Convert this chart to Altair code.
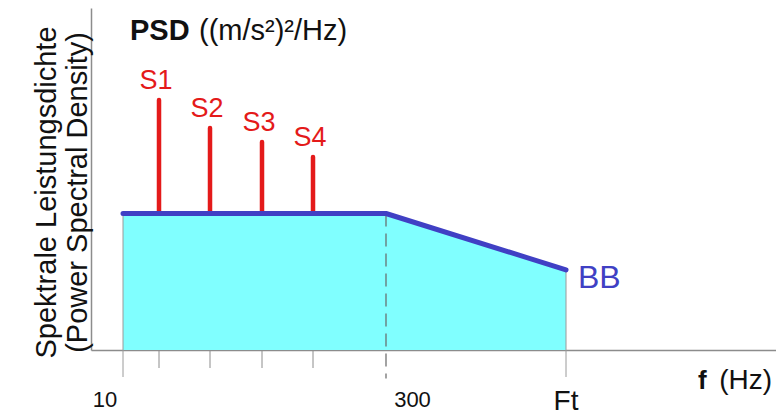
import altair as alt
import pandas as pd

# Schematic units: x = position along the frequency axis, y = PSD level
stem_names = ["S1", "S2", "S3", "S4"]
stem_pos = [13.6, 23.8, 34.2, 44.4]
stem_level = [83.3, 74.0, 69.3, 64.3]

bb_pos = [6.4, 59.0, 95.0]          # 10 Hz, 300 Hz, Ft
bb_level = [45.5, 45.5, 26.7]

freq_names = ["10", "300"]
freq_label_pos = [2.8, 64.3]
ft_name = ["Ft"]

FONT = "Liberation Sans"
BLUE = "#4040c4"
RED = "#e41a1a"
CYAN = "#80ffff"
GRAY = "#8c8c8c"

xs = alt.Scale(domain=[0, 137], nice=False, zero=False)
ys = alt.Scale(domain=[0, 114], nice=False, zero=False)

x_axis = alt.Axis(title=None, labels=False, ticks=False, grid=False,
                  domainColor=GRAY, domainWidth=1.5)
y_axis = alt.Axis(title=["Spektrale Leistungsdichte", "(Power Spectral Density)"],
                  labels=False, ticks=False, grid=False,
                  domainColor=GRAY, domainWidth=1.5,
                  titleFont=FONT, titleFontSize=29, titleFontWeight="normal",
                  titleColor="#111111", titleAngle=270, titleAlign="center",
                  titleBaseline="middle", titleX=-45, titleY=184,
                  titleLineHeight=31)


def X(field="x"):
    return alt.X(f"{field}:Q", scale=xs, axis=x_axis)


def Y(field="y"):
    return alt.Y(f"{field}:Q", scale=ys, axis=y_axis)


bb = pd.DataFrame({"x": bb_pos, "y": bb_level})
stems = pd.DataFrame({"x": stem_pos, "y": stem_level, "name": stem_names})

# cyan band under the broadband curve
area = alt.Chart(bb).mark_area(color=CYAN, opacity=1).encode(
    x=X(), y=Y(), y2=alt.datum(0))

# thin edges of the band at 10 Hz and Ft, running down past the axis
edges = alt.Chart(bb.iloc[[0, 2]]).mark_rule(color="#9a9a9a", strokeWidth=1).encode(
    x=X(), y=Y(), y2=alt.datum(-9))

# dashed marker at 300 Hz
knee = alt.Chart(bb.iloc[[1]]).mark_rule(color="#666666", strokeWidth=1.2,
                                          strokeDash=[13, 7]).encode(
    x=X(), y=Y(), y2=alt.datum(-9.5))

# short ticks under the sine lines
stem_ticks = alt.Chart(stems).mark_rule(color="#8c8c8c", strokeWidth=1).encode(
    x=X(), y=alt.datum(0), y2=alt.datum(-6))

# sine lines rising above the broadband plateau
stem_lines = alt.Chart(stems).mark_rule(color=RED, strokeWidth=4.5,
                                         strokeCap="round").encode(
    x=X(), y=alt.Y("base:Q", scale=ys, axis=y_axis), y2="y:Q"
).transform_calculate(base=str(bb_level[0]))

stem_text = alt.Chart(stems).mark_text(color=RED, font=FONT, fontSize=27,
                                        baseline="bottom", dy=-5, dx=-3).encode(
    x=X(), y=Y(), text="name:N")

# broadband profile
bb_line = alt.Chart(bb).mark_line(color=BLUE, strokeWidth=5, strokeCap="round",
                                  strokeJoin="round").encode(x=X(), y=Y())

bb_text = alt.Chart(bb.iloc[[2]]).mark_text(color=BLUE, font=FONT, fontSize=32,
                                            align="left", baseline="middle",
                                            dx=12, dy=8).encode(
    x=X(), y=Y(), text=alt.value("BB"))

# frequency labels under the axis
freq_df = pd.DataFrame({"x": freq_label_pos, "name": freq_names})
freq_text = alt.Chart(freq_df).mark_text(color="#111111", font=FONT, fontSize=22,
                                         baseline="middle").encode(
    x=X(), y=alt.datum(-16.8), text="name:N")

ft_df = pd.DataFrame({"x": [bb_pos[2]], "name": ft_name})
ft_text = alt.Chart(ft_df).mark_text(color="#111111", font=FONT, fontSize=28,
                                     baseline="middle").encode(
    x=X(), y=alt.datum(-17.3), text="name:N")

# axis captions
cap = pd.DataFrame({"x": [0]})
psd_bold = alt.Chart(cap).mark_text(font=FONT, fontSize=29, fontWeight="bold",
                                    color="#111111", align="left",
                                    baseline="middle").encode(
    x=alt.datum(7.8), y=alt.datum(106.3), text=alt.value("PSD"))
psd_unit = alt.Chart(cap).mark_text(font=FONT, fontSize=29, color="#111111",
                                    align="left", baseline="middle").encode(
    x=alt.datum(21.6), y=alt.datum(106.3), text=alt.value("((m/s²)²/Hz)"))

f_bold = alt.Chart(cap).mark_text(font=FONT, fontSize=26, fontWeight="bold",
                                  color="#111111", align="left",
                                  baseline="middle").encode(
    x=alt.datum(121.4), y=alt.datum(-10.3), text=alt.value("f"))
f_unit = alt.Chart(cap).mark_text(font=FONT, fontSize=28, color="#111111",
                                  align="right", baseline="middle").encode(
    x=alt.datum(136.2), y=alt.datum(-10.3), text=alt.value("(Hz)"))

chart = alt.layer(
    area, edges, knee, stem_ticks, stem_lines, bb_line,
    stem_text, bb_text, freq_text, ft_text, psd_bold, psd_unit, f_bold, f_unit
).properties(
    width=685, height=342,
    autosize=alt.AutoSizeParams(type="none"),
    padding={"left": 91, "top": 8, "right": 0, "bottom": 67},
    background="white",
).configure_view(stroke=None)

chart.save("out.html", embed_options={"renderer": "svg", "actions": False})
